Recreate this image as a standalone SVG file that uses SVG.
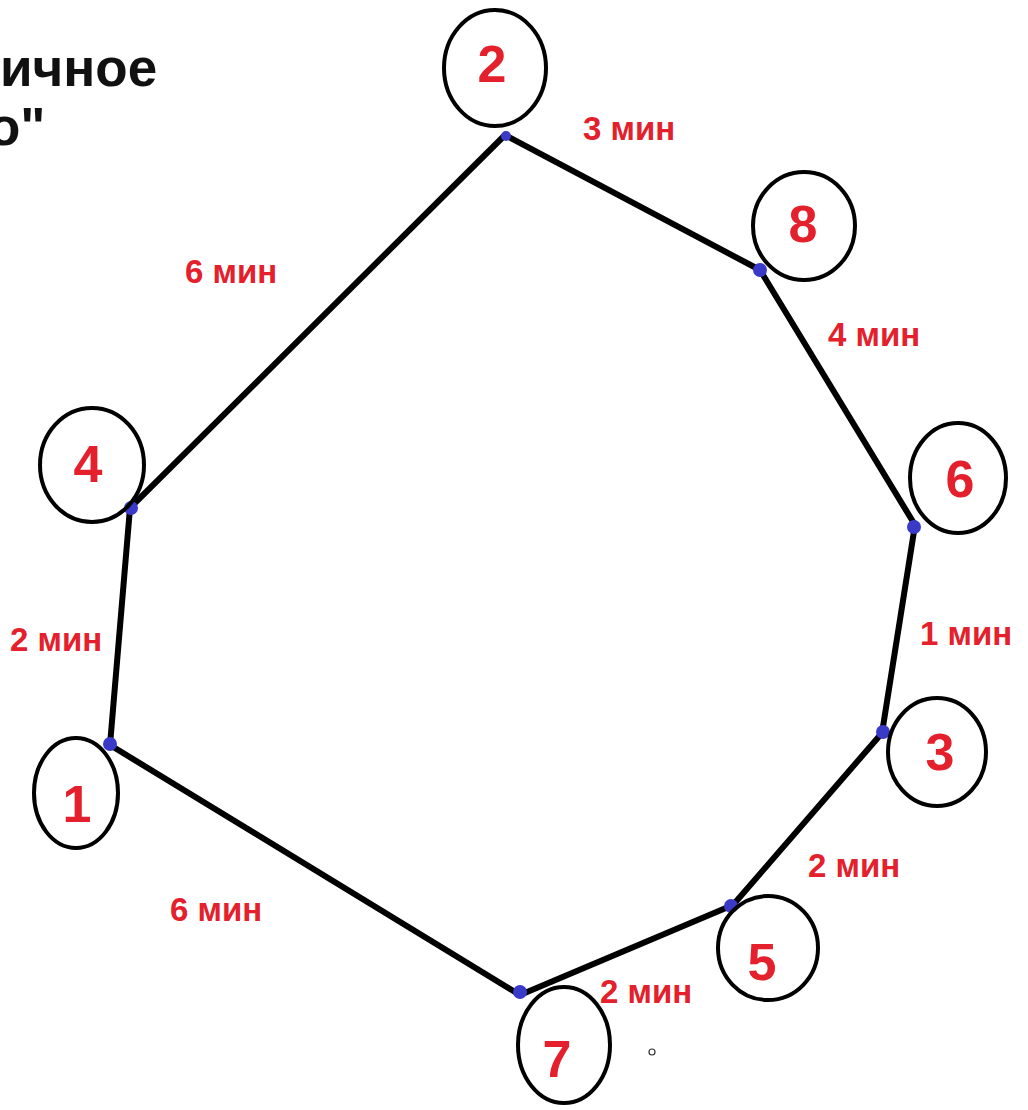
<svg xmlns="http://www.w3.org/2000/svg" width="1028" height="1110" viewBox="0 0 1028 1110">
<style>
.node ellipse{fill:none;stroke:#000;stroke-width:4}
.num{font-family:"Liberation Sans",Arial,sans-serif;font-weight:bold;font-size:52px;fill:#e3202b;text-anchor:middle}
.lbl{font-family:"Liberation Sans",Arial,sans-serif;font-weight:bold;font-size:33px;fill:#e3202b}
.title{font-family:"Liberation Sans",Arial,sans-serif;font-weight:bold;font-size:53px;fill:#111}
.edge{stroke:#000;stroke-width:6;stroke-linecap:round;fill:none}
.mk{fill:#3a3ac8}
</style>
<rect width="1028" height="1110" fill="#fff"/>
<text class="title" x="0" y="86">ичное</text>
<text class="title" x="-12" y="145">о"</text>
<g id="connectors">
<line class="edge" x1="505" y1="135" x2="760" y2="270"/>
<line class="edge" x1="760" y1="270" x2="915" y2="525"/>
<line class="edge" x1="915" y1="525" x2="882" y2="733"/>
<line class="edge" x1="882" y1="733" x2="733" y2="905"/>
<line class="edge" x1="733" y1="905" x2="520" y2="995"/>
<line class="edge" x1="520" y1="995" x2="110" y2="745"/>
<line class="edge" x1="110" y1="745" x2="130" y2="508"/>
<line class="edge" x1="130" y1="508" x2="505" y2="135"/>
<text class="lbl" x="583" y="140">3 мин</text>
<text class="lbl" x="185" y="283">6 мин</text>
<text class="lbl" x="828" y="346">4 мин</text>
<text class="lbl" x="920" y="645">1 мин</text>
<text class="lbl" x="10" y="651">2 мин</text>
<text class="lbl" x="808" y="877">2 мин</text>
<text class="lbl" x="170" y="921">6 мин</text>
<text class="lbl" x="600" y="1003">2 мин</text>
</g>
<g id="markers">
<circle class="mk" cx="506" cy="136" r="5"/>
<circle class="mk" cx="760" cy="270" r="7"/>
<circle class="mk" cx="914" cy="527" r="7"/>
<circle class="mk" cx="883" cy="732" r="7"/>
<circle class="mk" cx="731" cy="906" r="7"/>
<circle class="mk" cx="520" cy="992" r="7"/>
<circle class="mk" cx="110" cy="744" r="7"/>
<circle class="mk" cx="131" cy="508" r="7"/>
</g>
<g id="node2" class="node"><ellipse cx="495" cy="68" rx="51" ry="58"/><text class="num" x="492" y="82">2</text></g>
<g id="node8" class="node"><ellipse cx="804" cy="226" rx="51" ry="54"/><text class="num" x="803" y="242">8</text></g>
<g id="node6" class="node"><ellipse cx="958" cy="478" rx="48" ry="55"/><text class="num" x="960" y="497">6</text></g>
<g id="node3" class="node"><ellipse cx="937" cy="752" rx="49" ry="54"/><text class="num" x="940" y="770">3</text></g>
<g id="node5" class="node"><ellipse cx="768" cy="948" rx="50" ry="52"/><text class="num" x="762" y="980">5</text></g>
<g id="node7" class="node"><ellipse cx="564" cy="1045" rx="46" ry="58"/><text class="num" x="557" y="1077">7</text></g>
<g id="node1" class="node"><ellipse cx="76" cy="793" rx="42" ry="55"/><text class="num" x="77" y="822">1</text></g>
<g id="node4" class="node"><ellipse cx="92" cy="465" rx="52" ry="57"/><text class="num" x="88" y="482">4</text></g>
<circle cx="652" cy="1052" r="3" fill="none" stroke="#333" stroke-width="1.2"/>
</svg>
